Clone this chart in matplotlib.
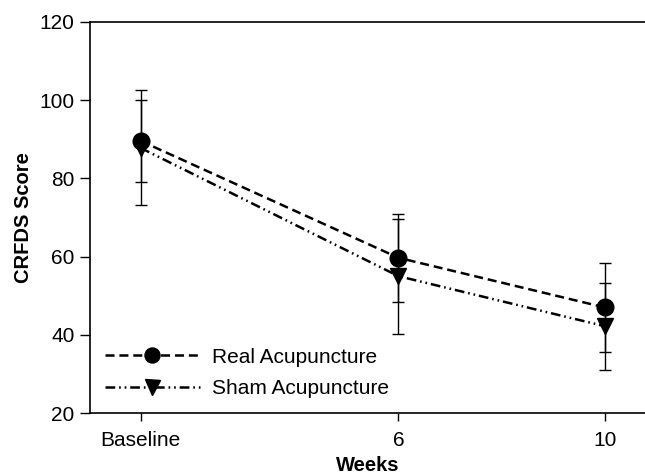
import matplotlib
matplotlib.use("Agg")
import matplotlib.pyplot as plt

plt.rcParams['font.family'] = ['Liberation Sans', 'DejaVu Sans']
plt.rcParams['lines.scale_dashes'] = False

# Data
week_labels = ["Baseline", "6", "10"]
week_pos = [1, 6, 10]
real_mean = [89.6, 59.7, 47.0]
real_err = [10.5, 11.2, 11.4]
sham_mean = [87.8, 55.0, 42.2]
sham_err = [14.7, 14.7, 11.1]

fig = plt.figure(figsize=(6.45, 4.75), dpi=100)
ax = fig.add_axes([0.1395, 0.1305, 0.8605, 0.8232])

ax.errorbar(week_pos, real_mean, yerr=real_err, fmt='none', ecolor='black',
            elinewidth=1.0, capsize=4.5, capthick=1.0, zorder=2)
ax.errorbar(week_pos, sham_mean, yerr=sham_err, fmt='none', ecolor='black',
            elinewidth=1.0, capsize=4.5, capthick=1.0, zorder=2)

l1, = ax.plot(week_pos, real_mean, color='black', lw=1.8, marker='o', markersize=12,
              label='Real Acupuncture', zorder=3)
l1.set_dashes((6.5, 3.5))
l2, = ax.plot(week_pos, sham_mean, color='black', lw=1.8, marker='v', markersize=12,
              label='Sham Acupuncture', zorder=3)
l2.set_dashes((7, 2.8, 1.2, 2.8, 1.2, 2.8))

ax.set_xlim(0.02, 10.78)
ax.set_ylim(20, 120)
ax.set_xticks(week_pos)
ax.set_xticklabels(week_labels)
ax.set_yticks([20, 40, 60, 80, 100, 120])

ax.spines['right'].set_visible(False)
for s in ['left', 'bottom', 'top']:
    ax.spines[s].set_linewidth(1.2)
ax.tick_params(axis='both', direction='out', width=1, labelsize=15)
ax.tick_params(axis='x', length=6, pad=7)
ax.tick_params(axis='y', length=7, pad=4)

ax.set_xlabel('Weeks', fontsize=14.5, fontweight='bold', labelpad=4.5)
ax.set_ylabel('CRFDS Score', fontsize=14.5, fontweight='bold', labelpad=5)

ax.legend(loc='lower left', bbox_to_anchor=(0.0, 0.0), frameon=False, fontsize=15,
          handlelength=4.6, numpoints=1, labelspacing=0.62, handletextpad=0.55,
          borderaxespad=0.3, markerscale=0.9)

fig.savefig('out.png', dpi=100)
